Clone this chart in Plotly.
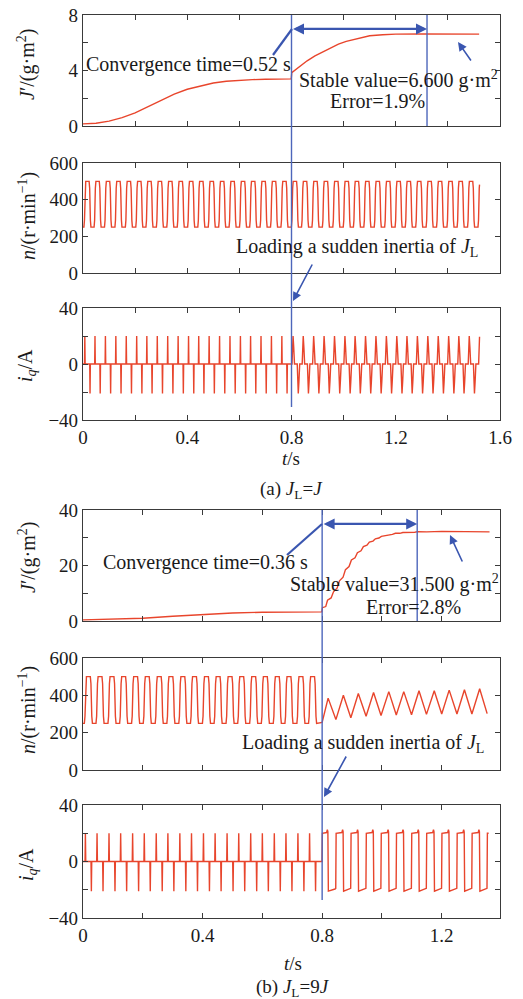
import numpy as np
import plotly.graph_objects as go

W, H = 523, 999

# ---------------- data ----------------
t_load = 0.8

# (a) J_L = J : inertia estimate J'
Ja_t = [0.00, 0.05, 0.10, 0.15, 0.20, 0.25, 0.30, 0.35, 0.40, 0.45, 0.50, 0.55,
        0.60, 0.65, 0.70, 0.75, 0.799, 0.801, 0.83, 0.86, 0.89, 0.92, 0.95, 0.98,
        1.01, 1.05, 1.10, 1.15, 1.20, 1.30, 1.40, 1.52]
Ja_v = [0.15, 0.20, 0.35, 0.60, 0.95, 1.40, 1.90, 2.30, 2.65, 2.90, 3.10, 3.22,
        3.30, 3.34, 3.37, 3.39, 3.40, 3.85, 4.30, 4.70, 5.05, 5.35, 5.65, 5.90,
        6.10, 6.30, 6.50, 6.58, 6.62, 6.63, 6.62, 6.62]
Ja_conv_end = 1.32

# (a) speed n: rising / falling edge times, levels
na_rise_t = [0.007, 0.046, 0.086, 0.126, 0.166, 0.206, 0.245, 0.285, 0.325, 0.365,
             0.405, 0.444, 0.484, 0.524, 0.564, 0.604, 0.643, 0.683, 0.723, 0.763,
             0.803, 0.842, 0.882, 0.922, 0.962, 1.002, 1.041, 1.081, 1.121, 1.161,
             1.201, 1.240, 1.280, 1.320, 1.360, 1.400, 1.439, 1.479, 1.519]
na_fall_t = [0.027, 0.066, 0.106, 0.146, 0.186, 0.226, 0.265, 0.305, 0.345, 0.385,
             0.425, 0.464, 0.504, 0.544, 0.584, 0.624, 0.663, 0.703, 0.743, 0.783,
             0.823, 0.862, 0.902, 0.942, 0.982, 1.022, 1.061, 1.101, 1.141, 1.181,
             1.221, 1.260, 1.300, 1.340, 1.380, 1.420, 1.459, 1.499]
na_hi, na_lo = 500, 250
na_end_t = 1.5215

# (a) current iq spikes (at the speed edges)
iqa_pos, iqa_neg = 20, -21

# (b) J_L = 9J : inertia estimate J'
Jb_t = [0.00, 0.10, 0.20, 0.30, 0.40, 0.50, 0.60, 0.70, 0.799, 0.801, 0.812, 0.818,
        0.830, 0.838, 0.850, 0.858, 0.870, 0.878, 0.890, 0.898, 0.910, 0.918, 0.930,
        0.938, 0.950, 0.958, 0.970, 0.978, 0.990, 0.998, 1.010, 1.020, 1.035, 1.045,
        1.060, 1.070, 1.085, 1.095, 1.110, 1.120, 1.150, 1.200, 1.250, 1.300, 1.360]
Jb_v = [0.4, 0.6, 1.0, 1.7, 2.4, 2.9, 3.15, 3.25, 3.3, 4.8, 5.2, 7.5,
        8.3, 10.5, 11.8, 14.5, 15.8, 18.5, 19.6, 22.0, 22.8, 24.6, 25.3,
        26.8, 27.3, 28.4, 28.8, 29.6, 29.9, 30.5, 30.7, 31.1, 31.2, 31.6,
        31.6, 31.9, 31.9, 32.1, 32.0, 32.2, 32.1, 32.3, 32.2, 32.3, 32.1]
Jb_conv_end = 1.118

# (b) speed n before the load step (edges) and after it (triangle vertices)
nb_rise_t = [0.008, 0.047, 0.087, 0.126, 0.166, 0.205, 0.245, 0.284, 0.324, 0.363,
             0.403, 0.442, 0.482, 0.521, 0.561, 0.600, 0.640, 0.679, 0.719, 0.758]
nb_fall_t = [0.028, 0.067, 0.107, 0.146, 0.186, 0.225, 0.265, 0.304, 0.344, 0.383,
             0.423, 0.462, 0.502, 0.541, 0.581, 0.620, 0.660, 0.699, 0.739, 0.778]
nb_hi, nb_lo = 500, 250
nb_peak_t = [0.820, 0.871, 0.921, 0.972, 1.023, 1.073, 1.124, 1.175, 1.225, 1.276, 1.327]
nb_peak_v = [385, 400, 410, 415, 420, 420, 425, 425, 428, 430, 435]
nb_trough_t = [0.846, 0.896, 0.947, 0.997, 1.048, 1.099, 1.149, 1.200, 1.251, 1.301, 1.352]
nb_trough_v = [270, 280, 288, 292, 295, 296, 298, 300, 300, 300, 302]
nb_start_v = 255

# (b) current iq
iqb_pos, iqb_neg = 20, -21
iqb_sq_hi, iqb_sq_lo = 20, -20
iqb_end_t = 1.357

# tick values (labelled / unlabelled)
Ja_ticks, Ja_minor = [0, 4, 8], [2, 6]
n_ticks = [0, 200, 400, 600]
iq_ticks, iq_minor = [-40, 0, 40], [-20, 20]
Jb_ticks, Jb_minor = [0, 20, 40], [10, 30]
xa_ticks, xa_minor = [0, 0.4, 0.8, 1.2, 1.6], [0.2, 0.6, 1.0, 1.4]
xb_ticks, xb_minor = [0, 0.4, 0.8, 1.2], [0.2, 0.6, 1.0]

# ---------------- helpers (rendering only) ----------------
def PX(x):
    return x / W

def PY(y):
    return 1 - y / H

RED = '#e8452c'
BLUE = '#3a56b0'
AX = '#3a3a3a'
FONT = "'Liberation Serif', 'Times New Roman', Times, serif"

def square(rise, fall, hi, lo, w, t0, start):
    ev = sorted([(t, 1) for t in rise] + [(t, 0) for t in fall])
    xs, ys = [t0], [start]
    for t, r in ev:
        if r:
            xs += [t - w, t - 0.4 * w, t + 0.4 * w, t + w]
            ys += [lo, lo + 0.15 * (hi - lo), hi - 0.15 * (hi - lo), hi]
        else:
            xs += [t - w, t - 0.4 * w, t + 0.4 * w, t + w]
            ys += [hi, hi - 0.15 * (hi - lo), lo + 0.15 * (hi - lo), lo]
    return xs, ys

def clip(xs, ys, t_end):
    xs = np.asarray(xs, float); ys = np.asarray(ys, float)
    keep = xs < t_end
    ye = np.interp(t_end, xs, ys)
    return list(xs[keep]) + [t_end], list(ys[keep]) + [ye]

NARROW = ([-0.0012, 0.0, 0.0012], [0, 1, 0])
WIDE = ([-0.001, 0.0012, 0.003, 0.0055, 0.0085], [0, 0.9, 1.0, 0.6, 0])

def spikes(pos_t, neg_t, a_pos, a_neg, t0, t_switch):
    ev = sorted([(t, a_pos) for t in pos_t] + [(t, a_neg) for t in neg_t])
    xs, ys = [t0], [0]
    for t, a in ev:
        offs, fr = NARROW if t < t_switch else WIDE
        xs += [t + o for o in offs]
        ys += [a * f for f in fr]
    return xs, ys

# ---- build traces ----
na_x, na_y = square(na_rise_t, na_fall_t, na_hi, na_lo, 0.0035, 0.0, na_lo)
na_x, na_y = clip(na_x, na_y, na_end_t)

iqa_x, iqa_y = spikes(na_rise_t, na_fall_t, iqa_pos, iqa_neg, 0.0, t_load)
iqa_x, iqa_y = clip(iqa_x, iqa_y, na_end_t)

nb_x, nb_y = square(nb_rise_t, nb_fall_t, nb_hi, nb_lo, 0.0035, 0.0, nb_lo)
nb_x += [t_load]
nb_y += [nb_start_v]
tri = sorted(list(zip(nb_peak_t, nb_peak_v)) + list(zip(nb_trough_t, nb_trough_v)))
nb_x += [p[0] for p in tri]
nb_y += [p[1] for p in tri]

iqb_x, iqb_y = spikes(nb_rise_t, nb_fall_t, iqb_pos, iqb_neg, 0.0, t_load)
iqb_x += [t_load - 0.0005]
iqb_y += [0]
sw = sorted([(t, 'p') for t in nb_peak_t] + [(t, 'v') for t in nb_trough_t])
iqb_x += [t_load + 0.0008]
iqb_y += [iqb_sq_hi]
for t, k in sw:
    if k == 'p':
        iqb_x += [t - 0.005, t - 0.0025, t - 0.0008, t + 0.0008]
        iqb_y += [iqb_sq_hi + 0.5, iqb_sq_hi + 2.5, iqb_sq_hi + 1, iqb_sq_lo - 1]
    else:
        iqb_x += [t - 0.003, t - 0.0005, t + 0.0008]
        iqb_y += [iqb_sq_lo + 0.5, iqb_sq_lo + 1, iqb_sq_hi]
iqb_x, iqb_y = clip(iqb_x, iqb_y, iqb_end_t)

# ---------------- figure ----------------
XD = [PX(83), PX(500)]
rows = [  # (top px, bottom px)
    (15, 126), (163, 273), (308, 420),
    (510, 621), (658, 770), (805, 918),
]

fig = go.Figure()
series = [
    (Ja_t, Ja_v), (na_x, na_y), (iqa_x, iqa_y),
    (Jb_t, Jb_v), (nb_x, nb_y), (iqb_x, iqb_y),
]
for i, (x, y) in enumerate(series, start=1):
    fig.add_trace(go.Scatter(x=x, y=y, mode='lines',
                             line=dict(color=RED, width=1.4),
                             xaxis=f'x{i}', yaxis=f'y{i}', showlegend=False,
                             hoverinfo='skip'))

yt = [
    (Ja_ticks, Ja_minor, [0, 8]),
    (n_ticks, [], [0, 600]),
    (iq_ticks, iq_minor, [-40, 40]),
    (Jb_ticks, Jb_minor, [0, 40]),
    (n_ticks, [], [0, 600]),
    (iq_ticks, iq_minor, [-40, 40]),
]

def fmt(v):
    s = ('%g' % v)
    return s.replace('-', '\u2212')

layout = dict(width=W, height=H,
              margin=dict(l=0, r=0, t=0, b=0, pad=0, autoexpand=False),
              paper_bgcolor='white', plot_bgcolor='white',
              font=dict(family=FONT, size=19, color='#1a1a1a'))
common = dict(showline=True, linecolor=AX, linewidth=1.2, mirror='allticks',
              ticks='inside', ticklen=5, tickcolor=AX, tickwidth=1,
              showgrid=False, zeroline=False, automargin=False,
              tickfont=dict(family=FONT, size=19, color='#1a1a1a'))
for i in range(1, 7):
    top, bot = rows[i - 1]
    a = i <= 3
    xv, xm = (xa_ticks, xa_minor) if a else (xb_ticks, xb_minor)
    layout[f'xaxis{i}'] = dict(common, domain=XD, anchor=f'y{i}',
                               range=[0, 1.6] if a else [0, 1.395],
                               tickmode='array', tickvals=xv,
                               ticktext=[fmt(v) for v in xv],
                               minor=dict(tickmode='array', tickvals=xm, ticks='inside',
                                          ticklen=5, tickcolor=AX, tickwidth=1,
                                          showgrid=False),
                               showticklabels=(i in (3, 6)))
    tv, tm, rg = yt[i - 1]
    ydict = dict(common, domain=[PY(bot), PY(top)], anchor=f'x{i}',
                 range=rg, tickmode='array', tickvals=tv,
                 ticktext=[fmt(v) for v in tv])
    if tm:
        ydict['minor'] = dict(tickmode='array', tickvals=tm, ticks='inside',
                              ticklen=5, tickcolor=AX, tickwidth=1, showgrid=False)
    layout[f'yaxis{i}'] = ydict
fig.update_layout(**layout)

ann = []
def txt(s, x, y, size=19, angle=0):
    ann.append(dict(text=s, x=PX(x), y=PY(y), xref='paper', yref='paper',
                    showarrow=False, xanchor='center', yanchor='middle',
                    textangle=angle, font=dict(family=FONT, size=size, color='#1a1a1a')))

Jtitle = '<i>J</i>\u2032/(g\u00b7m<sup>2</sup>)'
ntitle = '<i>n</i>/(r\u00b7min<sup>\u22121</sup>)'
ititle = '<i>i<sub>q</sub></i>/A'
for s, yc in [(Jtitle, 65), (ntitle, 216), (ititle, 366),
              (Jtitle, 558), (ntitle, 710), (ititle, 865)]:
    txt(s, 27, yc, size=20, angle=-90)
txt('<i>t</i>/s', 291, 458)
txt('<i>t</i>/s', 293, 963)
txt('(a) <i>J</i><sub>L</sub>=<i>J</i>', 291, 490)
txt('(b) <i>J</i><sub>L</sub>=9<i>J</i>', 293, 988)

txt('Convergence time=0.52 s', 188, 65, size=20)
txt('Stable value=6.600 g\u00b7m<sup>2</sup>', 398, 80, size=20)
txt('Error=1.9%', 377, 101, size=20)
txt('Loading a sudden inertia of <i>J</i><sub>L</sub>', 357, 248, size=20)
txt('Convergence time=0.36 s', 205, 562, size=20)
txt('Stable value=31.500 g\u00b7m<sup>2</sup>', 394, 583, size=20)
txt('Error=2.8%', 413, 607, size=20)
txt('Loading a sudden inertia of <i>J</i><sub>L</sub>', 363, 743, size=20)

ann.append(dict(x=Ja_conv_end, y=7.0, xref='x1', yref='y1', ax=t_load, ay=7.0,
                axref='x1', ayref='y1', text='', showarrow=True, arrowside='end+start',
                arrowhead=2, arrowsize=1, arrowwidth=2.2, arrowcolor=BLUE))
ann.append(dict(x=Jb_conv_end, y=35.0, xref='x4', yref='y4', ax=t_load, ay=35.0,
                axref='x4', ayref='y4', text='', showarrow=True, arrowside='end+start',
                arrowhead=2, arrowsize=1, arrowwidth=2.2, arrowcolor=BLUE))

def arrow(hx, hy, tx, ty, w=1.6):
    ann.append(dict(x=PX(hx), y=PY(hy), xref='paper', yref='paper',
                    ax=tx - hx, ay=ty - hy, axref='pixel', ayref='pixel', text='',
                    showarrow=True, arrowhead=2, arrowsize=1.1, arrowwidth=w,
                    arrowcolor=BLUE))
arrow(458, 42, 472, 62)
arrow(450, 535, 463, 563)
arrow(293, 301, 313, 263)
arrow(324, 797, 347, 755)
fig.update_layout(annotations=ann)

shapes = []
def vline(xref, xv, ytop, ybot):
    shapes.append(dict(type='line', xref=xref, yref='paper', x0=xv, x1=xv,
                       y0=PY(ybot), y1=PY(ytop), line=dict(color='#4d66bb', width=1.4)))
vline('x1', t_load, 15, 407)
vline('x1', Ja_conv_end, 15, 126)
vline('x4', t_load, 510, 900)
vline('x4', Jb_conv_end, 510, 621)
def seg(x0, y0, x1, y1):
    shapes.append(dict(type='line', xref='paper', yref='paper', x0=PX(x0), y0=PY(y0),
                       x1=PX(x1), y1=PY(y1), line=dict(color=BLUE, width=2.2)))
seg(273, 55, 292, 29)
seg(287, 555, 322, 524)
fig.update_layout(shapes=shapes)

fig.write_html('out.html', config={'displayModeBar': False},
               post_script="document.body.style.margin='0';")
